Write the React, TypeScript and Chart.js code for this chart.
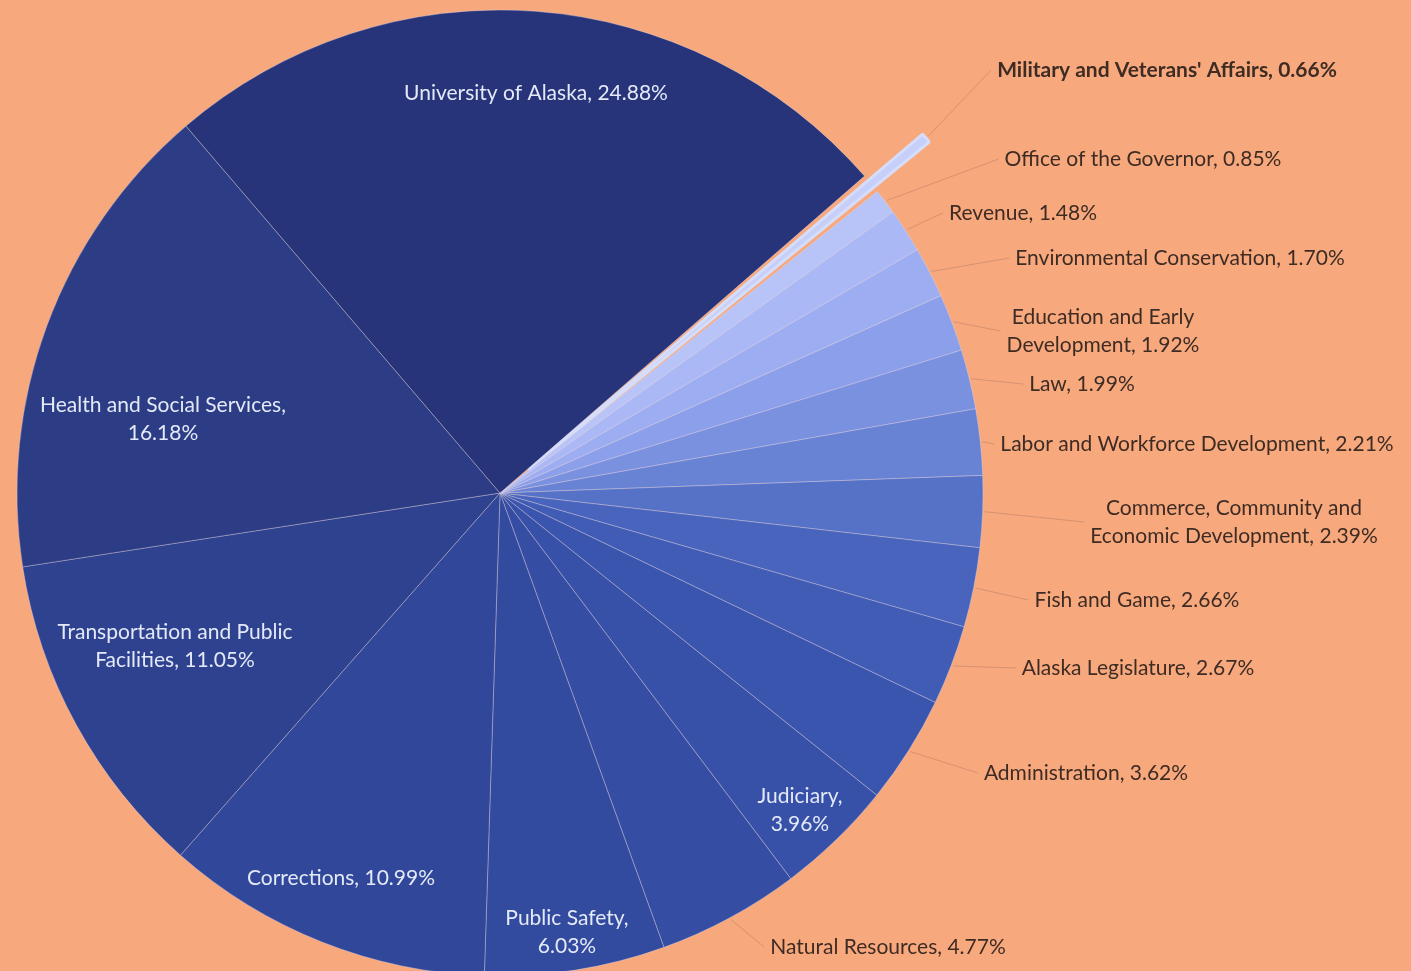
import React, { useEffect, useRef } from "react";
import { Chart, registerables } from "chart.js";

Chart.register(...registerables);

// ---- data ----
const categories = [
  "Military and Veterans' Affairs",
  "Office of the Governor",
  "Revenue",
  "Environmental Conservation",
  "Education and Early Development",
  "Law",
  "Labor and Workforce Development",
  "Commerce, Community and Economic Development",
  "Fish and Game",
  "Alaska Legislature",
  "Administration",
  "Judiciary",
  "Natural Resources",
  "Public Safety",
  "Corrections",
  "Transportation and Public Facilities",
  "Health and Social Services",
  "University of Alaska",
];

const shares = [
  0.66, 0.85, 1.48, 1.7, 1.92, 1.99, 2.21, 2.39, 2.66, 2.67, 3.62, 3.96, 4.77,
  6.03, 10.99, 11.05, 16.18, 24.88,
];

// ---- styles ----
const sliceColors = [
  "#C6CFF9",
  "#B8C4F8",
  "#AAB8F5",
  "#9CADF1",
  "#8C9FEA",
  "#7A91E0",
  "#6882D4",
  "#5672C6",
  "#4864BC",
  "#405CB5",
  "#3A55AE",
  "#3751A8",
  "#354EA4",
  "#334B9F",
  "#314799",
  "#2F428F",
  "#2C3C85",
  "#28347A",
];

const sliceOffsets = [146, 0, 0, 0, 0, 0, 0, 0, 0, 0, 0, 0, 0, 0, 0, 0, 0, 0];
const sliceBorderWidths = [3, 1, 1, 1, 1, 1, 1, 1, 1, 1, 1, 1, 1, 1, 1, 1, 1, 1];
const sliceBorderColors = sliceColors.map((c, i) =>
  i === 0 ? "#D6DDFA" : "rgba(225,220,240,0.35)"
);

// label text placement relative to the pie centre (px); inside labels are white
const labelLayout = [
  { dx: 667, dy: -423, inside: false, split: 0, bold: true },
  { dx: 643, dy: -334, inside: false, split: 0, bold: false },
  { dx: 523, dy: -280, inside: false, split: 0, bold: false },
  { dx: 680, dy: -235, inside: false, split: 0, bold: false },
  { dx: 603, dy: -162, inside: false, split: 3, bold: false },
  { dx: 582, dy: -109, inside: false, split: 0, bold: false },
  { dx: 697, dy: -49, inside: false, split: 0, bold: false },
  { dx: 734, dy: 29, inside: false, split: 3, bold: false },
  { dx: 637, dy: 107, inside: false, split: 0, bold: false },
  { dx: 638, dy: 175, inside: false, split: 0, bold: false },
  { dx: 586, dy: 280, inside: false, split: 0, bold: false },
  { dx: 300, dy: 317, inside: true, split: 1, bold: false },
  { dx: 388, dy: 454, inside: false, split: 0, bold: false },
  { dx: 67, dy: 439, inside: true, split: 2, bold: false },
  { dx: -159, dy: 385, inside: true, split: 0, bold: false },
  { dx: -325, dy: 153, inside: true, split: 3, bold: false },
  { dx: -337, dy: -74, inside: true, split: 4, bold: false },
  { dx: 36, dy: -400, inside: true, split: 0, bold: false },
];

const BG = "#F7A87D";
const FONT = "Lato, 'Open Sans', sans-serif";

const labelPlugin = {
  id: "sliceLabels",
  afterDatasetsDraw(chart: any) {
    const ctx = chart.ctx;
    const meta = chart.getDatasetMeta(0);
    ctx.save();
    meta.data.forEach((arc: any, i: number) => {
      const { x, y, startAngle, endAngle, outerRadius } = arc.getProps(
        ["x", "y", "startAngle", "endAngle", "outerRadius"],
        true
      );
      const lay = labelLayout[i];
      const text = `${categories[i]}, ${shares[i].toFixed(2)}%`;
      const words = text.split(" ");
      const lines =
        lay.split > 0
          ? [words.slice(0, lay.split).join(" "), words.slice(lay.split).join(" ")]
          : [text];
      ctx.font = `${lay.bold ? "bold " : ""}21px ${FONT}`;
      const lx = x + lay.dx;
      const ly = y + lay.dy;
      const lineH = 28;
      if (!lay.inside) {
        const w = Math.max(...lines.map((l: string) => ctx.measureText(l).width));
        const mid = (startAngle + endAngle) / 2;
        const r = outerRadius + sliceOffsets[i] / 2 + 2;
        const ex = x + Math.cos(mid) * r;
        const ey = y + Math.sin(mid) * r;
        ctx.strokeStyle = "rgba(165,115,95,0.4)";
        ctx.lineWidth = 1;
        ctx.beginPath();
        ctx.moveTo(ex, ey);
        ctx.lineTo(lx - w / 2 - 6, ly);
        ctx.stroke();
      }
      ctx.fillStyle = lay.inside ? "#E4E9F7" : "#3E2C24";
      ctx.textAlign = "center";
      ctx.textBaseline = "middle";
      lines.forEach((l: string, k: number) => {
        ctx.fillText(l, lx, ly + (k - (lines.length - 1) / 2) * lineH);
      });
    });
    ctx.restore();
  },
};

export default function App() {
  const ref = useRef<HTMLCanvasElement | null>(null);
  useEffect(() => {
    document.body.style.margin = "0";
    const canvas = ref.current;
    if (!canvas) return;
    const chart = new Chart(canvas, {
      type: "pie",
      data: {
        labels: categories,
        datasets: [
          {
            data: shares,
            backgroundColor: sliceColors,
            borderColor: sliceBorderColors,
            borderWidth: sliceBorderWidths,
            offset: sliceOffsets,
            radius: 483,
          } as any,
        ],
      },
      options: {
        responsive: false,
        animation: false,
        devicePixelRatio: 1,
        rotation: 49,
        layout: { padding: { left: 0, right: 411, top: 0, bottom: 0 } },
        plugins: {
          legend: { display: false },
          tooltip: { enabled: false },
          title: { display: false },
        },
      } as any,
      plugins: [labelPlugin],
    });
    return () => chart.destroy();
  }, []);
  return (
    <div
      style={{
        width: 1411,
        height: 971,
        overflow: "hidden",
        background: BG,
        position: "relative",
      }}
    >
      <canvas ref={ref} width={1411} height={986} style={{ display: "block" }} />
    </div>
  );
}
